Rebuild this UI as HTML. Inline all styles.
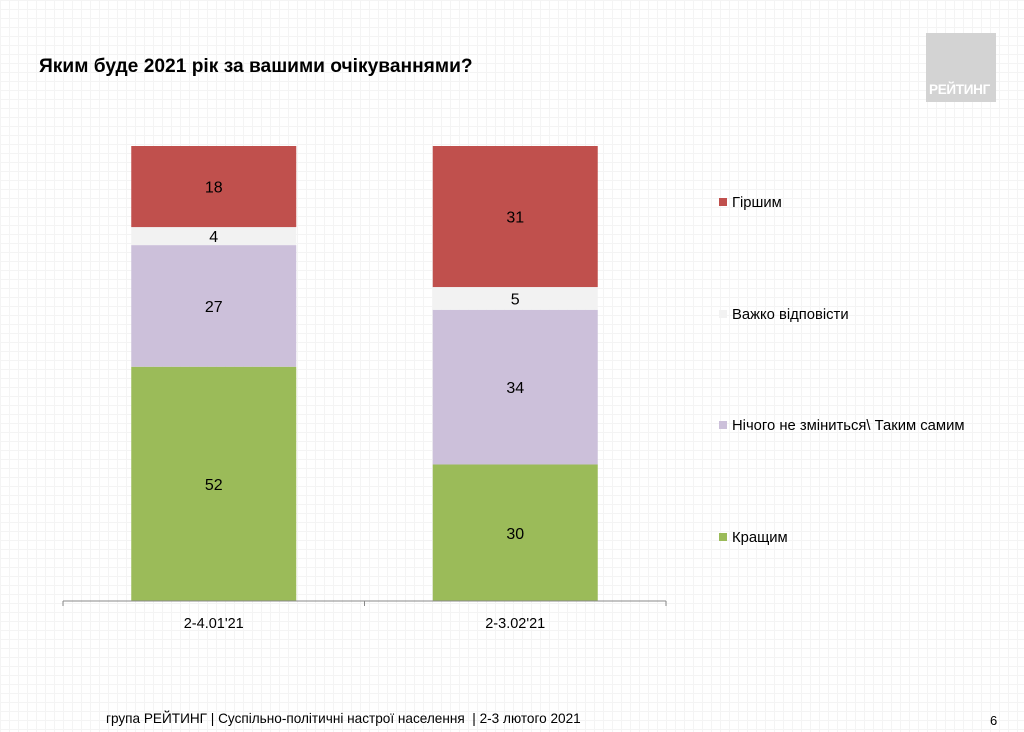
<!DOCTYPE html>
<html><head><meta charset="utf-8"><style>
body{margin:0;background:#fff;font-family:"Liberation Sans",sans-serif}
#wrap{position:relative;width:1024px;height:732px;overflow:hidden;
background-image:linear-gradient(#f4f4f4 1px,transparent 1px),linear-gradient(90deg,#f4f4f4 1px,transparent 1px);background-size:9px 9px}
.t{position:absolute;white-space:nowrap}
</style></head><body>
<div id="wrap">
<div class="t" style="left:39px;top:56px;font-size:19.2px;font-weight:bold;color:#000">Яким буде 2021 рік за вашими очікуваннями?</div>
<div style="position:absolute;left:926px;top:33px;width:70px;height:69px;background:#d3d3d3"><span style="position:absolute;left:3px;bottom:5px;color:#fff;font-weight:bold;font-size:13.5px;letter-spacing:-0.3px">РЕЙТИНГ</span></div>
<svg id="chart" width="1024" height="732" style="position:absolute;left:0;top:0"></svg>
<div class="t" style="left:106px;top:711px;font-size:13.6px;color:#000">група РЕЙТИНГ | Суспільно-політичні настрої населення &nbsp;| 2-3 лютого 2021</div>
<div class="t" style="left:990px;top:713px;font-size:13px">6</div>
</div>
<script>
const categories=["2-4.01'21","2-3.02'21"];
const seriesNames=["Кращим","Нічого не зміниться\\ Таким самим","Важко відповісти","Гіршим"];
const seriesColors=["#9bbb59","#ccc0da","#f2f2f2","#c0504d"];
const better=[52,30];
const same=[27,34];
const hard=[4,5];
const worse=[18,31];
const series=[better,same,hard,worse];
const NS="http://www.w3.org/2000/svg";
const svg=document.getElementById('chart');
const base=601,fullH=455,plotL=63,plotR=666,barW=165;
const slot=(plotR-plotL)/categories.length;
const xc=i=>plotL+slot*(i+0.5);
function el(tag,a){const e=document.createElementNS(NS,tag);for(const k in a)e.setAttribute(k,a[k]);svg.appendChild(e);return e;}
categories.forEach((c,i)=>{
  const total=series.reduce((s,a)=>s+a[i],0);
  const y=v=>base-v/total*fullH;
  let cum=0;
  series.forEach((s,j)=>{
    const v=s[i];
    const r=el('rect',{x:xc(i)-barW/2,y:y(cum+v),width:barW,height:v/total*fullH,fill:seriesColors[j]});
    
    
    const t=el('text',{x:xc(i),y:y(cum+v/2)+6,'text-anchor':'middle','font-size':16,fill:'#000','font-family':'Liberation Sans'});
    t.textContent=v;
    
    
    cum+=v;
  });
  const tl=el('text',{x:xc(i),y:628,'text-anchor':'middle','font-size':14.5,'font-family':'Liberation Sans'});
  tl.textContent=c;
  
  
});
const ax=el('line',{x1:plotL,x2:plotR,y1:base,y2:base,stroke:'#888'});


for(let k=0;k<=categories.length;k++){
  const tk=el('line',{x1:plotL+slot*k,x2:plotL+slot*k,y1:base,y2:base+5,stroke:'#888'});
  
  
}
const legY=[537,425,314,202];
seriesNames.forEach((n,j)=>{
  const sq=el('rect',{x:719,y:legY[j]-4,width:8,height:8,fill:seriesColors[j]});
  
  
  const t=el('text',{x:732,y:legY[j]+5,'font-size':14.8,'font-family':'Liberation Sans'});
  t.textContent=n;
  
  
});
</script>
</body></html>
